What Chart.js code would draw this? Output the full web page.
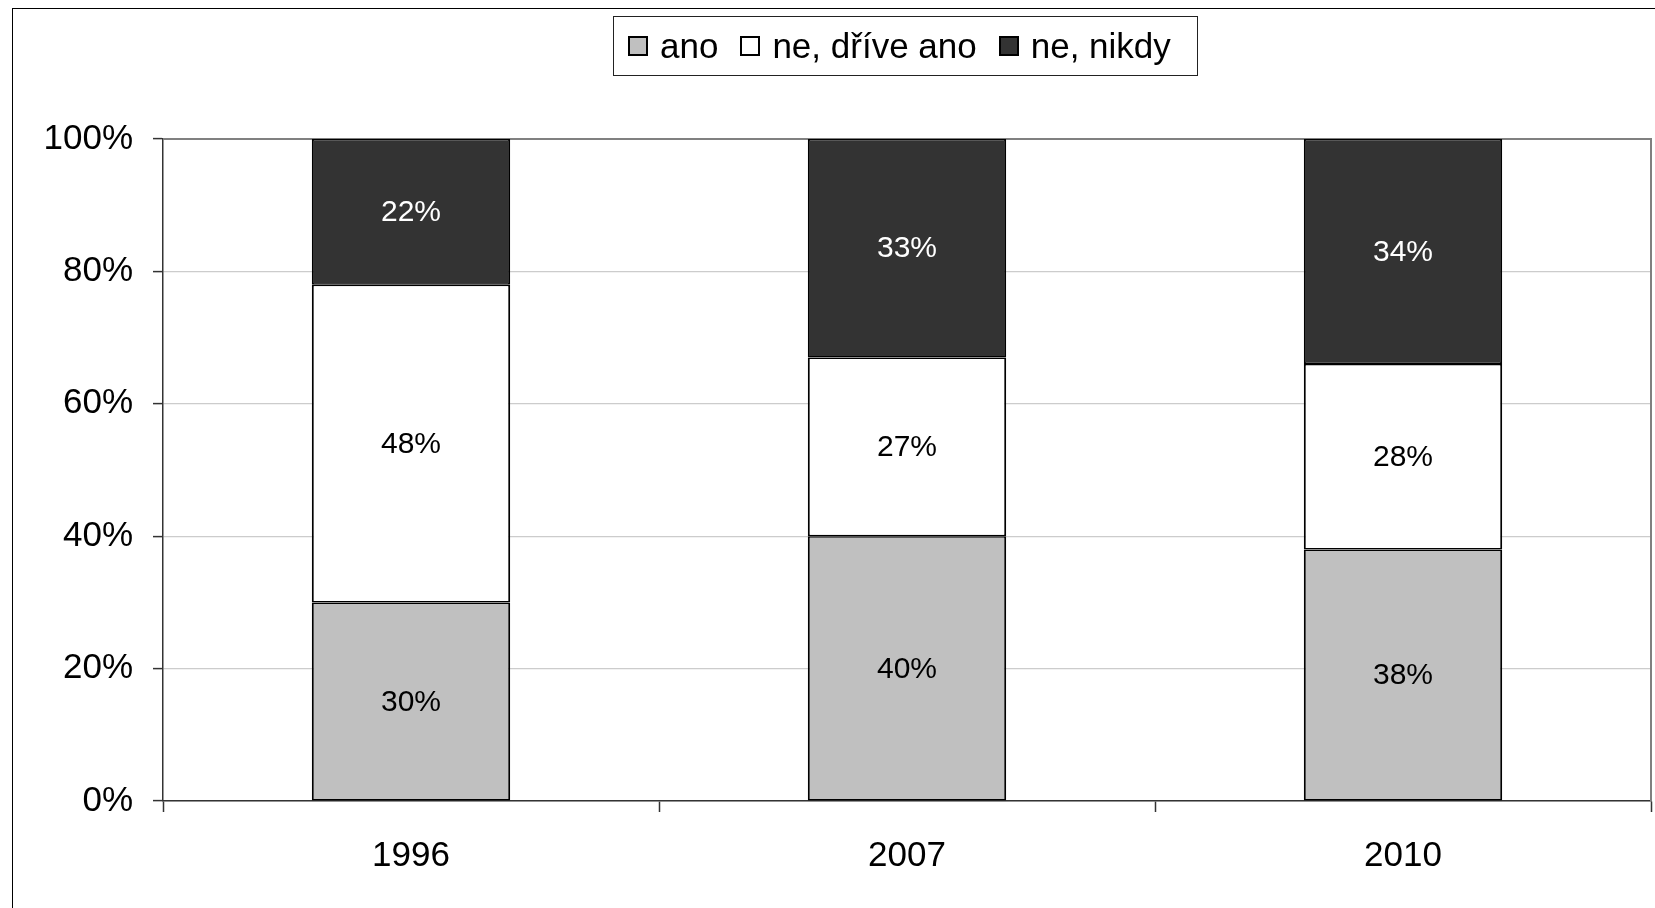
<!DOCTYPE html>
<html>
<head>
<meta charset="utf-8">
<script src="https://cdn.jsdelivr.net/npm/chart.js@4"></script>
<style>
  html, body { margin: 0; padding: 0; background: #fff; overflow: hidden; }
  #wrap { position: relative; width: 1655px; height: 908px; }
  #frame { position: absolute; left: 12px; top: 8px; width: 1700px; height: 1000px; border: 1.5px solid #000; box-sizing: border-box; }
  #myChart { position: absolute; left: 0; top: 0; }
  #legend { position: absolute; left: 613px; top: 16px; width: 585px; height: 60px; border: 1.5px solid #222; box-sizing: border-box;
            font: 35px "Liberation Sans", Arial, sans-serif; color: #000; display: flex; align-items: center; padding-left: 14px; white-space: nowrap; }
  #legend .box { display: inline-block; width: 20px; height: 20px; border: 2px solid #000; box-sizing: border-box; margin-right: 12px; }
  #legend .item { display: flex; align-items: center; margin-right: 22px; }
</style>
</head>
<body>
<div id="wrap">
  <div id="frame"></div>
  <canvas id="myChart" width="1655" height="908"></canvas>
  <div id="legend"></div>
</div>
<script>
const years = ["1996", "2007", "2010"];
const seriesNames = ["ano", "ne, dříve ano", "ne, nikdy"];
const ano = [30, 40, 38];
const driveAno = [48, 27, 28];
const nikdy = [22, 33, 34];
const yTicks = [0, 20, 40, 60, 80, 100];
const fills = ["#c0c0c0", "#ffffff", "#333333"];
const labelColors = ["#000", "#000", "#fff"];

const ctx = document.querySelector("#myChart");
const $legend = document.querySelector("#legend");

const FONT = '"Liberation Sans", Arial, sans-serif';

// values in the middle of each segment
const segmentLabels = {
    id: "segmentLabels",
    afterDatasetsDraw(chart) {
        const c = chart.ctx;
        c.save();
        c.font = "30px " + FONT;
        c.textAlign = "center";
        c.textBaseline = "middle";
        chart.data.datasets.forEach((ds, i) => {
            const meta = chart.getDatasetMeta(i);
            meta.data.forEach((bar, j) => {
                const p = bar.getCenterPoint();
                c.fillStyle = labelColors[i];
                c.fillText(ds.data[j] + "%", p.x, p.y + 1);
            });
        });
        c.restore();
    }
};

// gray top/right edge of the plot area
const plotFrame = {
    id: "plotFrame",
    beforeDatasetsDraw(chart) {
        const a = chart.chartArea;
        const c = chart.ctx;
        c.save();
        c.strokeStyle = "#808080";
        c.lineWidth = 2;
        c.beginPath();
        c.moveTo(a.left, a.top);
        c.lineTo(a.right, a.top);
        c.lineTo(a.right, a.bottom);
        c.stroke();
        c.restore();
    }
};

const border = { top: 1.5, bottom: 1.5, left: 2, right: 2 };

const chart = new Chart(ctx, {
    type: "bar",
    data: {
        labels: years,
        datasets: [ano, driveAno, nikdy].map((d, i) => ({
            label: seriesNames[i],
            data: d,
            backgroundColor: fills[i],
            borderColor: "#000",
            borderWidth: border,
            borderSkipped: false,
            categoryPercentage: 0.8,
            barPercentage: 0.5
        }))
    },
    options: {
        responsive: false,
        animation: false,
        layout: { padding: { left: 0, right: 4, top: 139, bottom: 0 } },
        plugins: { legend: { display: false }, tooltip: { enabled: false } },
        scales: {
            x: {
                stacked: true,
                offset: true,
                grid: { offset: true, drawOnChartArea: false, tickLength: 11, tickColor: "#333", tickWidth: 1.5 },
                border: { color: "#333", width: 1.5 },
                ticks: { color: "#000", font: { family: FONT, size: 35 }, padding: 23 },
                afterFit(scale) { scale.height = 107; }
            },
            y: {
                stacked: true,
                min: 0,
                max: 100,
                afterBuildTicks(scale) { scale.ticks = yTicks.map(v => ({ value: v })); },
                grid: {
                    color: c => c.tick && c.tick.value === 100 ? "#808080" : "#cccccc",
                    lineWidth: 1.2,
                    tickLength: 10,
                    tickColor: "#333",
                    tickWidth: 1.5
                },
                border: { color: "#333", width: 1.5 },
                ticks: { color: "#000", font: { family: FONT, size: 35 }, padding: 20, callback: v => v + "%" },
                afterFit(scale) { scale.width = 163; }
            }
        }
    },
    plugins: [plotFrame, segmentLabels]
});

chart.data.datasets.forEach((ds, i) => {
    const item = document.createElement("span");
    item.className = "item";
    item.innerHTML = '<span class="box" style="background:' + ds.backgroundColor + '"></span>' + ds.label;
    $legend.appendChild(item);
});
</script>
</body>
</html>
